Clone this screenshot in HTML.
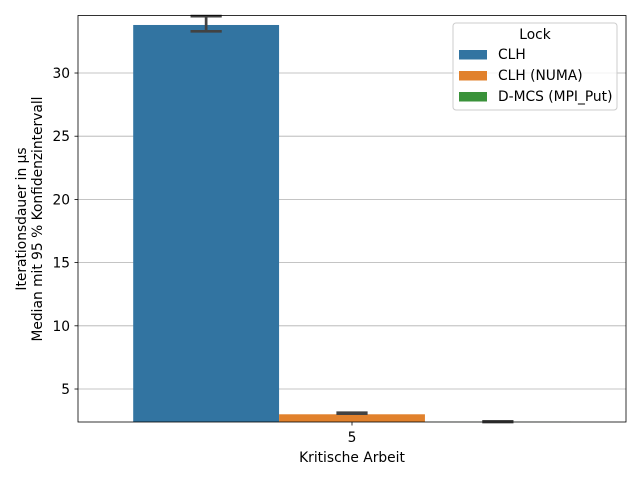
<!DOCTYPE html>
<html><head><meta charset="utf-8"><style>
body{margin:0;background:#fff;font-family:"DejaVu Sans","Liberation Sans",sans-serif;}
svg text{font-family:"DejaVu Sans","Liberation Sans",sans-serif;}
</style></head><body>
<svg width="640" height="480" viewBox="0 0 640 480">
<g id="grid"></g><g id="bars"></g><g id="axes"></g>
<g>
<rect x="453" y="23" width="164" height="87" rx="3" fill="#fff" fill-opacity="0.8" stroke="#ccc"/>
<text x="535" y="39" font-size="13.8" text-anchor="middle">Lock</text>
<g id="legend-entries"></g>
</g>
</svg>
<script>
const categories = ["5"];
const series = ["CLH", "CLH (NUMA)", "D-MCS (MPI_Put)"];
const medians = [33.8, 3.0, 2.4];
const ciLow = [33.3, 3.05, 2.38];
const ciHigh = [34.5, 3.12, 2.44];
const yTicks = [5, 10, 15, 20, 25, 30];
const colors = ["#3274a1", "#e1812c", "#3a923a"];
const FS=13.8;
const L=78,R=626,T=15.5,B=422,ymin=2.39,ymax=34.55;
const y=v=>B-(v-ymin)/(ymax-ymin)*(B-T);
const NS="http://www.w3.org/2000/svg";
function mk(p,tag,a){const e=document.createElementNS(NS,tag);for(const k in a)e.setAttribute(k,a[k]);p.appendChild(e);return e;}
const grid=document.getElementById('grid'),bars=document.getElementById('bars'),axes=document.getElementById('axes'),leg=document.getElementById('legend-entries');
yTicks.forEach(t=>{
 const g=mk(grid,'line',{x1:L,x2:R,y1:y(t),y2:y(t),stroke:'#b0b0b0','stroke-width':0.8});
 
 
 const tk=mk(axes,'line',{x1:L-3.5,x2:L,y1:y(t),y2:y(t),stroke:'#000','stroke-width':0.8});
 
 
 const tx=mk(axes,'text',{x:L-8,y:y(t)+5,'font-size':FS,'text-anchor':'end'});tx.textContent=t;
 
 
});
const groupW=437.6,cx=(L+R)/2,bw=groupW/series.length,x0=cx-groupW/2;
series.forEach((s,i)=>{
 const bx=x0+i*bw,top=y(medians[i]);
 const r=mk(bars,'rect',{x:bx,y:Math.min(top,B),width:bw,height:Math.max(0,B-top),fill:colors[i]});
 
 
 const m=bx+bw/2,cw=bw*0.107;
 const yl=Math.min(y(ciLow[i]),B),yh=Math.min(y(ciHigh[i]),B);
 const eb=mk(bars,'path',{d:`M${m},${yl}V${yh}M${m-cw},${yl}H${m+cw}M${m-cw},${yh}H${m+cw}`,stroke:'#424242','stroke-width':2.7,fill:'none'});
 
 
 const ly=54+i*21;
 const p=mk(leg,'rect',{x:459,y:ly-4,width:28,height:9.5,fill:colors[i]});
 
 
 const lt=mk(leg,'text',{x:498,y:ly+5,'font-size':FS});lt.textContent=s;
 
 
});
const fr=mk(axes,'rect',{x:L,y:T,width:R-L,height:B-T,fill:'none',stroke:'#000','stroke-width':0.8});


const xt=mk(axes,'line',{x1:cx,x2:cx,y1:B,y2:B+3.5,stroke:'#000','stroke-width':0.8});


const xl=mk(axes,'text',{x:cx,y:442,'font-size':FS,'text-anchor':'middle'});xl.textContent=categories[0];


const xa=mk(axes,'text',{x:cx,y:462,'font-size':FS,'text-anchor':'middle'});xa.textContent='Kritische Arbeit';


const ya=mk(axes,'text',{'font-size':FS,'text-anchor':'middle',transform:'translate(26,219) rotate(-90)'});


const t1=mk(ya,'tspan',{x:0,dy:0});t1.textContent='Iterationsdauer in µs';
const t2=mk(ya,'tspan',{x:0,dy:16});t2.textContent='Median mit 95 % Konfidenzintervall';
</script>
</body></html>
